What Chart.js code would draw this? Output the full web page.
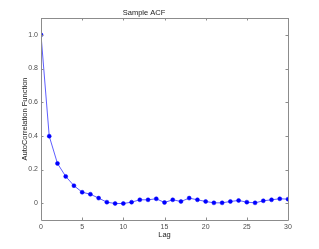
<!DOCTYPE html>
<html>
<head>
<meta charset="utf-8">
<script src="https://cdn.jsdelivr.net/npm/chart.js@4"></script>
<style>
  html, body { margin: 0; padding: 0; background: #fff; }
  #wrap { width: 319px; height: 249px; }
</style>
</head>
<body>
<div id="wrap"><canvas id="acf"></canvas></div>
<script>
// lag numbers and sample autocorrelation values
const lags = [0, 1, 2, 3, 4, 5, 6, 7, 8, 9, 10, 11, 12, 13, 14, 15, 16, 17, 18, 19, 20,
  21, 22, 23, 24, 25, 26, 27, 28, 29, 30];
const acfValues = [1.0, 0.398, 0.236, 0.159, 0.104, 0.065, 0.053, 0.030, 0.006, -0.002, -0.002,
  0.006, 0.020, 0.020, 0.026, 0.004, 0.020, 0.010, 0.030, 0.020, 0.010,
  0.002, 0.002, 0.010, 0.016, 0.006, 0.002, 0.014, 0.020, 0.026, 0.024];
const xTicks = [0, 5, 10, 15, 20, 25, 30];
const yTicks = [0, 0.2, 0.4, 0.6, 0.8, 1];

const axisColor = '#8c8c8c';
const labelColor = '#4d4d4d';
const fontFamily = '"Liberation Sans", Arial, Helvetica, sans-serif';

// matlab-like box with inward ticks on all four sides
const boxTicks = {
  id: 'boxTicks',
  afterDraw(chart) {
    const { ctx, chartArea: a, scales } = chart;
    const len = 2.5;
    ctx.save();
    ctx.strokeStyle = axisColor;
    ctx.lineWidth = 1;
    ctx.beginPath();
    ctx.rect(Math.round(a.left) + 0.5, Math.round(a.top) + 0.5,
      Math.round(a.right - a.left), Math.round(a.bottom - a.top));
    xTicks.forEach(v => {
      const x = Math.round(scales.x.getPixelForValue(v)) + 0.5;
      ctx.moveTo(x, a.bottom); ctx.lineTo(x, a.bottom - len);
      ctx.moveTo(x, a.top); ctx.lineTo(x, a.top + len);
    });
    yTicks.forEach(v => {
      const y = Math.round(scales.y.getPixelForValue(v)) + 0.5;
      ctx.moveTo(a.left, y); ctx.lineTo(a.left + len, y);
      ctx.moveTo(a.right, y); ctx.lineTo(a.right - len, y);
    });
    ctx.stroke();
    ctx.restore();
  }
};

new Chart(document.getElementById('acf'), {
  type: 'line',
  data: {
    datasets: [{
      data: lags.map((l, i) => ({ x: l, y: acfValues[i] })),
      borderColor: 'rgba(40, 40, 255, 0.75)',
      borderWidth: 1,
      pointStyle: 'circle',
      pointRadius: 2,
      pointBackgroundColor: '#0000ff',
      pointBorderColor: '#0000ff',
      pointBorderWidth: 0.5,
      tension: 0,
      fill: false
    }]
  },
  options: {
    responsive: true,
    maintainAspectRatio: false,
    animation: false,
    layout: { padding: { left: 0, right: 31, top: 0, bottom: 0 } },
    plugins: {
      legend: { display: false },
      tooltip: { enabled: false },
      title: {
        display: true,
        text: 'Sample ACF',
        color: '#222',
        font: { family: fontFamily, size: 7.5, weight: 'normal', lineHeight: 1.2 },
        padding: { top: 8, bottom: 1 }
      }
    },
    scales: {
      x: {
        type: 'linear',
        min: 0,
        max: 30,
        afterFit: s => { s.height = 29; },
        afterBuildTicks: s => { s.ticks = xTicks.map(v => ({ value: v })); },
        grid: { display: false, drawTicks: false },
        border: { display: false },
        ticks: { color: labelColor, padding: 3, maxRotation: 0, autoSkip: false,
          font: { family: fontFamily, size: 7 } },
        title: { display: true, text: 'Lag', color: '#222',
          font: { family: fontFamily, size: 7.5 }, padding: { top: 0, bottom: 10 } }
      },
      y: {
        type: 'linear',
        min: -0.1,
        max: 1.1,
        afterFit: s => { s.width = 41; },
        afterBuildTicks: s => { s.ticks = yTicks.map(v => ({ value: v })); },
        grid: { display: false, drawTicks: false },
        border: { display: false },
        ticks: { color: labelColor, padding: 3, autoSkip: false,
          font: { family: fontFamily, size: 7 } },
        title: { display: true, text: 'AutoCorrelation Function', color: '#222',
          font: { family: fontFamily, size: 7.5 }, padding: { top: 20, bottom: 0 } }
      }
    }
  },
  plugins: [boxTicks]
});
</script>
</body>
</html>
